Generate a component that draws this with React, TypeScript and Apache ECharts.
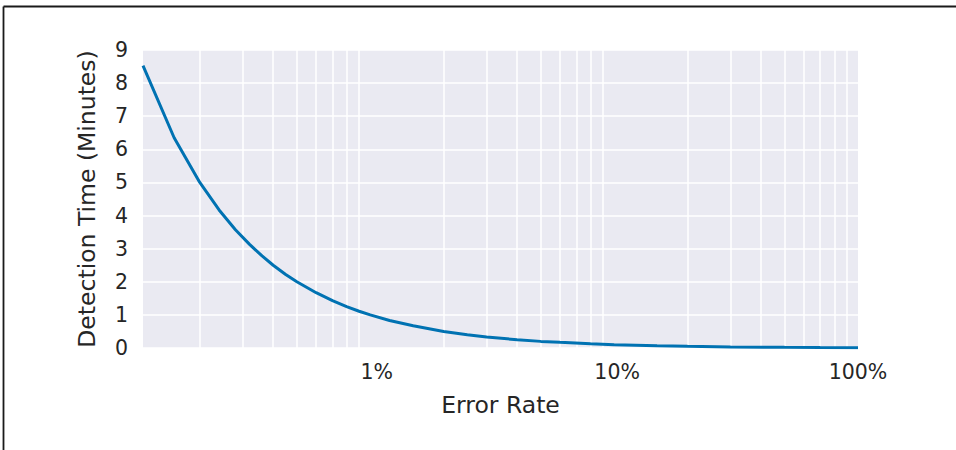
import React, { useEffect, useRef } from "react";
import * as echarts from "echarts";

// Error rate (%) and detection time (minutes)
const RATES = [0.117, 0.157, 0.2, 0.24, 0.28, 0.32, 0.36, 0.4, 0.45, 0.5, 0.6, 0.7, 0.8, 0.9, 1, 1.2, 1.5, 2, 2.5, 3, 4, 5, 6, 8, 10, 15, 20, 30, 50, 70, 100];
const MINUTES = [8.53, 6.35, 5.0, 4.17, 3.57, 3.13, 2.78, 2.5, 2.22, 2.0, 1.67, 1.43, 1.25, 1.11, 1.0, 0.83, 0.67, 0.5, 0.4, 0.33, 0.25, 0.2, 0.17, 0.125, 0.1, 0.067, 0.05, 0.033, 0.02, 0.014, 0.01];

// Minor grid lines on the log x-axis
const MINOR_GRID = [0.2, 0.3, 0.4, 0.5, 0.6, 0.7, 0.8, 0.9, 2, 3, 4, 5, 6, 7, 8, 9, 20, 30, 40, 50, 60, 70, 80, 90];

// Labelled decades on the x-axis
const X_LABELS = ["1%", "10%", "100%"];

const X_MIN = 0.117;
const X_MAX = 100;
const Y_MIN = 0;
const Y_MAX = 9;

export default function App() {
  const ref = useRef<HTMLDivElement>(null);
  useEffect(() => {
    document.body.style.margin = "0";
    const chart = echarts.init(ref.current!, null, { renderer: "svg" });
    const textColor = "#262626";
    const labelBase = { fontSize: 20.5, color: textColor, fontFamily: "DejaVu Sans" };
    chart.setOption({
      animation: false,
      backgroundColor: "#ffffff",
      textStyle: { fontFamily: "DejaVu Sans" },
      grid: {
        left: 143,
        right: 98,
        top: 50,
        bottom: 102,
        show: true,
        backgroundColor: "#EAEAF2",
        borderWidth: 0,
      },
      xAxis: {
        type: "log",
        logBase: 10,
        min: X_MIN,
        max: X_MAX,
        name: "Error Rate",
        nameLocation: "middle",
        nameGap: 45,
        nameTextStyle: { fontSize: 23.5, color: textColor, fontFamily: "DejaVu Sans" },
        axisLine: { show: false },
        axisTick: { show: false },
        splitLine: { show: false },
        axisLabel: {
          ...labelBase,
          margin: 13,
          formatter: (v: number) => {
            const l = Math.log10(v);
            const r = Math.round(l);
            if (Math.abs(l - r) > 1e-6 || r < 0 || r > 2) return "";
            return `{p${r}|${X_LABELS[r]}}`;
          },
          rich: {
            p0: { ...labelBase, padding: [0, 0, 0, 13] },
            p1: { ...labelBase, padding: [0, 0, 0, 6] },
            p2: { ...labelBase },
          },
        },
      },
      yAxis: {
        type: "value",
        min: Y_MIN,
        max: Y_MAX,
        interval: 1,
        name: "Detection Time (Minutes)",
        nameLocation: "middle",
        nameGap: 44,
        nameTextStyle: { fontSize: 23.5, color: textColor, fontFamily: "DejaVu Sans" },
        axisLine: { show: false },
        axisTick: { show: false },
        axisLabel: { ...labelBase, margin: 15 },
        splitLine: { show: true, lineStyle: { color: "#ffffff", width: 1.5 } },
      },
      series: [
        {
          type: "line",
          data: [],
          z: 1,
          silent: true,
          markLine: {
            z: 1,
            silent: true,
            symbol: "none",
            label: { show: false },
            lineStyle: { color: "#ffffff", width: 1.5, type: "solid" },
            data: MINOR_GRID.map((v) => ({ xAxis: v })),
          },
        },
        {
          type: "line",
          data: RATES.map((r, i) => [r, MINUTES[i]]),
          showSymbol: false,
          symbol: "none",
          z: 3,
          lineStyle: { color: "#0072B2", width: 3 },
        },
      ],
      graphic: [
        {
          type: "line",
          shape: { x1: 3.5, y1: 6.5, x2: 956, y2: 6.5 },
          style: { stroke: "#1a1a1a", lineWidth: 1.8 },
        },
        {
          type: "line",
          shape: { x1: 3.5, y1: 6.5, x2: 3.5, y2: 450 },
          style: { stroke: "#1a1a1a", lineWidth: 1.8 },
        },
      ],
    });
    return () => chart.dispose();
  }, []);
  return <div ref={ref} style={{ width: 956, height: 450 }} />;
}
